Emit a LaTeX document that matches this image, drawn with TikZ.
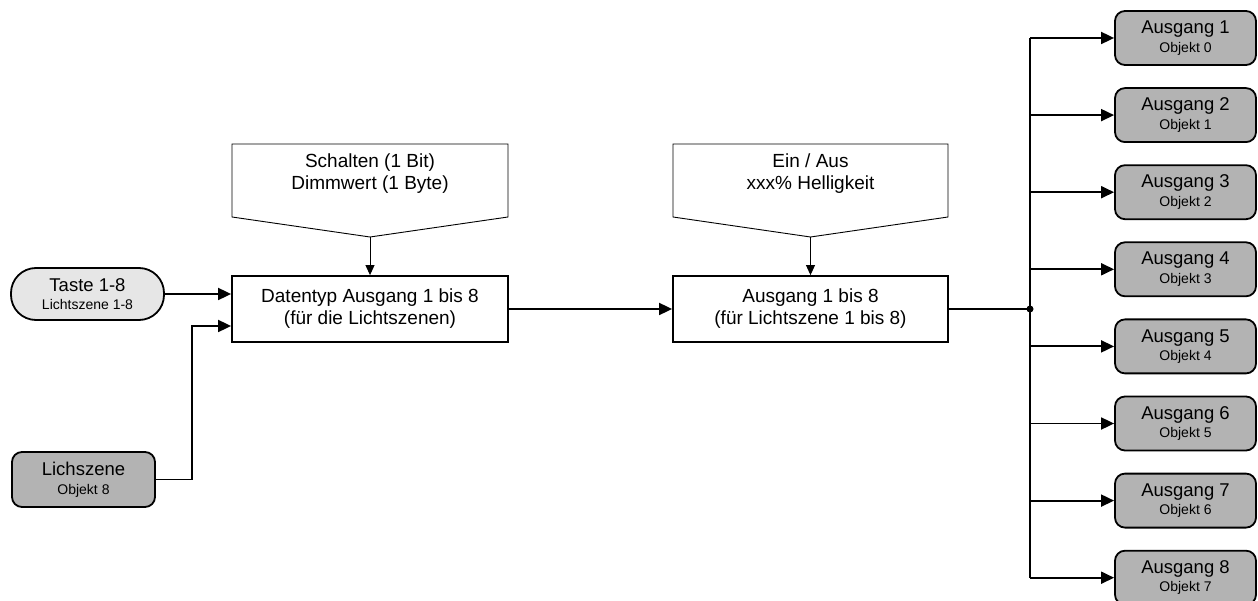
\documentclass[tikz,border=0pt]{standalone}
\usepackage{fontspec}
\setmainfont{Liberation Sans}
\usetikzlibrary{arrows.meta}
\definecolor{lightfill}{RGB}{230,230,230}
\definecolor{darkfill}{RGB}{179,179,179}
\tikzset{
  big/.style={font=\fontsize{19}{22}\selectfont},
  pairfont/.style={font=\fontsize{18.5}{18.5}\selectfont},
  box/.style={draw, line width=1.8pt, fill=white, align=center, inner sep=0pt},
  objbox/.style={draw, line width=1.8pt, fill=darkfill, rounded corners=10pt, align=center,
     minimum width=141pt, minimum height=54pt, inner sep=0pt, pairfont},
  conn/.style={line width=1.8pt, -{Triangle[length=13pt,width=12pt]}},
  thinconn/.style={line width=0.9pt, -{Triangle[length=10pt,width=9pt]}},
  callout/.style={draw, line width=0.9pt, fill=white},
}
\newcommand{\twolines}[2]{#1\\{\fontsize{14}{14}\selectfont #2}}
\begin{document}
\begin{tikzpicture}[x=1pt,y=-1pt]
\useasboundingbox (0,0) rectangle (1258,601);

% inputs
\node[box, pairfont, fill=lightfill, rounded corners=25pt, minimum width=153pt, minimum height=52pt]
  (taste) at (87.5,294) {\twolines{Taste 1-8}{Lichtszene 1-8}};
\node[objbox, minimum width=143pt, minimum height=55pt] (lich) at (83.5,479.5)
  {\twolines{Lichszene}{Objekt 8}};

% main boxes
\node[box, big, minimum width=276pt, minimum height=66pt] (dt) at (370,309)
  {Datentyp Ausgang 1 bis 8\\(für die Lichtszenen)};
\node[box, big, minimum width=275pt, minimum height=66pt] (aus) at (810.5,309)
  {Ausgang 1 bis 8\\(für Lichtszene 1 bis 8)};

% callouts
\coordinate (c1tip) at (370,237);
\draw[callout] (232,144) -- (508,144) -- (508,217) -- (c1tip) -- (232,217) -- cycle;
\node[big, align=center] (c1) at (370,174) {Schalten (1 Bit)\\Dimmwert (1 Byte)};
\coordinate (c2tip) at (810.5,237);
\draw[callout] (673,144) -- (948,144) -- (948,217) -- (c2tip) -- (673,217) -- cycle;
\node[big, align=center] (c2) at (810.5,174) {Ein / Aus\\xxx\% Helligkeit};

\draw[thinconn] (c1tip) -- (dt.north);
\draw[thinconn] (c2tip) -- (aus.north);

% input connectors
\draw[conn] (taste.east) -- (taste.east -| dt.west);
\coordinate (bend) at (192,326);
\draw[conn] (lich.east) -| (bend) -- (bend -| dt.west);
\draw[conn] (dt.east) -- (aus.west);

% outputs
\foreach \i/\o in {1/0,2/1,3/2,4/3,5/4,6/5,7/6,8/7} {
  \node[objbox] (out\i) at (1185.5,{38+77.1*(\i-1)}) {\twolines{Ausgang \i}{Objekt \o}};
}
\coordinate (hub) at (1030,309);
\draw[line width=1.8pt] (aus.east) -- (hub);
\fill (hub) circle (3.5pt);
\draw[line width=1.8pt] (out1.west -| hub) -- (out8.west -| hub);
\foreach \i in {1,...,8} {
  \draw[conn] (out\i.west -| hub) -- (out\i.west);
}
\end{tikzpicture}
\end{document}
